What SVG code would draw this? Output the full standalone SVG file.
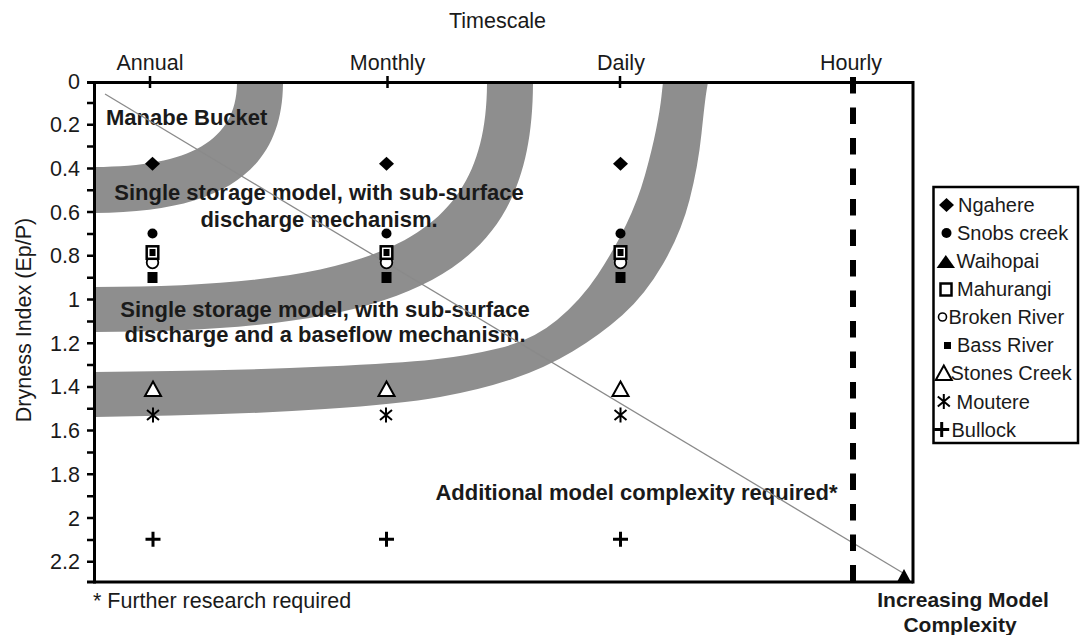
<svg xmlns="http://www.w3.org/2000/svg" width="1080" height="635" viewBox="0 0 1080 635">
  <style>
    .reg { font-family: "Liberation Sans", Arial, sans-serif; font-size: 21.5px; fill: #1a1a1a; }
    .bold { font-family: "Liberation Sans", Arial, sans-serif; font-size: 22px; font-weight: bold; fill: #1a1a1a; }
    .corner { font-size: 21px; }
    .leg { font-family: "Liberation Sans", Arial, sans-serif; font-size: 20px; fill: #1a1a1a; }
    .mid { text-anchor: middle; }
    .end { text-anchor: end; }
    .axis { stroke: #000; stroke-width: 3; fill: none; }
    .tick { stroke: #000; stroke-width: 2.5; fill: none; }
    .band { fill: #8e8e8e; stroke: none; }
    .solid { fill: #000; stroke: none; }
    .open { fill: #fff; stroke: #000; }
  </style>
  <defs>
    <clipPath id="plotArea">
      <rect x="95.5" y="84" width="816" height="496.5"/>
    </clipPath>
    <!-- series marker symbols -->
    <path id="mDiamond" d="M0,-7 L7.5,0 L0,7 L-7.5,0 Z" class="solid"/>
    <circle id="mDot" r="5" class="solid"/>
    <path id="mTriOpen" d="M0,-7.5 L8,7 L-8,7 Z" fill="#fff" stroke="#000" stroke-width="2"/>
    <path id="mStar" d="M0,-7.5 V7.5 M-6,-5 L6,5 M-6,5 L6,-5" stroke="#000" stroke-width="2" fill="none"/>
    <path id="mPlus" d="M-7.5,0 H7.5 M0,-7.5 V7.5" stroke="#000" stroke-width="3" fill="none"/>
  </defs>

  <rect width="1080" height="635" fill="#fff"/>

  <!-- model-complexity regions -->
  <g id="regions" clip-path="url(#plotArea)">
    <path id="band-manabe" class="band" d="M80,213 L93,213 C222,213 283,171 283,82 L283,70 L237,70 L237,82 C237,140 191,167 93,167 L80,167 Z"/>
    <path id="band-subsurface" class="band" d="M80,332 L93,332 C423,332 533,269.5 533,82 L533,70 L487,70 L487,82 C487,235.75 388.5,287 93,287 L80,287 Z"/>
    <path id="band-baseflow" class="band" d="M80,417 L93,417 L171.5,415.5 Q250,414 325,409 Q400,404 440,397 Q480,390 512.5,379 Q545,368 572.5,351.5 Q600,335 622.5,315 Q645,295 663,264 Q681,233 689.5,200 Q698,167 701.5,133.5 Q705,100 706.5,91 L708,82 L708,70 L663,70 L663,82 L661.5,96 Q660,110 656,130 Q652,150 645,175 Q638,200 626,225 Q614,250 597.5,275 Q581,300 557,320 Q533,340 500,348 Q467,356 433.5,359.5 Q400,363 325,366.5 Q250,370 171.5,371 L93,372 L80,372 Z"/>
  </g>

  <!-- region labels -->
  <g id="region-labels">
    <text class="bold" x="106" y="125">Manabe Bucket</text>
    <text class="bold mid" x="319" y="200">Single storage model, with sub-surface</text>
    <text class="bold mid" x="319" y="227">discharge mechanism.</text>
    <text class="bold mid" x="325" y="317">Single storage model, with sub-surface</text>
    <text class="bold mid" x="325" y="342">discharge and a baseflow mechanism.</text>
    <text class="bold mid" x="636.5" y="500">Additional model complexity required*</text>
  </g>

  <!-- connectors: complexity trend and hourly limit -->
  <g id="connectors">
    <line id="trend" x1="105" y1="94" x2="903" y2="573" stroke="#8a8a8a" stroke-width="1.3"/>
    <line id="hourly-limit" x1="853" y1="77" x2="853" y2="582" stroke="#000" stroke-width="6" stroke-dasharray="16.5 14"/>
  </g>

  <!-- axes and frame -->
  <g id="axes">
    <line class="axis" x1="87" y1="82.5" x2="913" y2="82.5"/>
    <line class="axis" x1="87" y1="582" x2="913" y2="582"/>
    <line class="axis" x1="94.5" y1="81" x2="94.5" y2="583.5"/>
    <line class="axis" x1="913" y1="81" x2="913" y2="583.5"/>
    <path class="tick" d="M87,102.9H94 M87,124.7H94 M87,146.6H94 M87,168.4H94 M87,190.3H94 M87,212.1H94 M87,234H94 M87,255.8H94 M87,277.7H94 M87,299.5H94 M87,321.4H94 M87,343.2H94 M87,365.1H94 M87,386.9H94 M87,408.8H94 M87,430.6H94 M87,452.5H94 M87,474.3H94 M87,496.2H94 M87,518H94 M87,539.9H94 M87,561.7H94"/>
    <path class="tick" d="M150,76V88 M387.5,76V88 M620,76V88"/>
  </g>

  <!-- axis text -->
  <g id="axis-labels">
    <text class="reg mid" x="497.5" y="28">Timescale</text>
    <text class="reg mid" x="150" y="70">Annual</text>
    <text class="reg mid" x="387.5" y="70">Monthly</text>
    <text class="reg mid" x="621" y="70">Daily</text>
    <text class="reg mid" x="851" y="70">Hourly</text>
    <text class="reg end" x="80" y="88.5">0</text>
    <text class="reg end" x="80" y="132">0.2</text>
    <text class="reg end" x="80" y="175.8">0.4</text>
    <text class="reg end" x="80" y="219.6">0.6</text>
    <text class="reg end" x="80" y="263.3">0.8</text>
    <text class="reg end" x="80" y="307">1</text>
    <text class="reg end" x="80" y="350.7">1.2</text>
    <text class="reg end" x="80" y="394.4">1.4</text>
    <text class="reg end" x="80" y="438.1">1.6</text>
    <text class="reg end" x="80" y="481.8">1.8</text>
    <text class="reg end" x="80" y="525.5">2</text>
    <text class="reg end" x="80" y="569.2">2.2</text>
    <text class="reg mid" transform="translate(31,320) rotate(-90)">Dryness Index (Ep/P)</text>
    <text class="reg" x="93" y="608">* Further research required</text>
    <text class="bold corner mid" x="963" y="607">Increasing Model</text>
    <text class="bold corner mid" x="960" y="632">Complexity</text>
  </g>

  <!-- data points per catchment -->
  <g id="ngahere">
    <use href="#mDiamond" x="152.5" y="163.8"/>
    <use href="#mDiamond" x="386.5" y="163.8"/>
    <use href="#mDiamond" x="620.5" y="163.8"/>
  </g>
  <g id="snobs-creek">
    <use href="#mDot" x="152.5" y="233.5"/>
    <use href="#mDot" x="386.5" y="233.5"/>
    <use href="#mDot" x="620.5" y="233.5"/>
  </g>
  <g id="broken-river">
    <circle class="open" cx="152.5" cy="262.5" r="5.8" stroke-width="1.8"/>
    <circle class="open" cx="386.5" cy="262.5" r="5.8" stroke-width="1.8"/>
    <circle class="open" cx="620.5" cy="262.5" r="5.8" stroke-width="1.8"/>
  </g>
  <g id="mahurangi">
    <rect class="open" x="146.7" y="246.3" width="11.6" height="12.5" stroke-width="2.5"/>
    <rect class="solid" x="149.5" y="249" width="6" height="7"/>
    <rect class="open" x="380.7" y="246.3" width="11.6" height="12.5" stroke-width="2.5"/>
    <rect class="solid" x="383.5" y="249" width="6" height="7"/>
    <rect class="open" x="614.7" y="246.3" width="11.6" height="12.5" stroke-width="2.5"/>
    <rect class="solid" x="617.5" y="249" width="6" height="7"/>
  </g>
  <g id="bass-river">
    <rect class="solid" x="147.5" y="272" width="10" height="11"/>
    <rect class="solid" x="381.5" y="272" width="10" height="11"/>
    <rect class="solid" x="615.5" y="272" width="10" height="11"/>
  </g>
  <g id="stones-creek">
    <use href="#mTriOpen" x="153" y="389"/>
    <use href="#mTriOpen" x="386.5" y="389"/>
    <use href="#mTriOpen" x="620.5" y="389"/>
  </g>
  <g id="moutere">
    <use href="#mStar" x="153" y="415"/>
    <use href="#mStar" x="386" y="415"/>
    <use href="#mStar" x="620.5" y="415"/>
  </g>
  <g id="bullock">
    <use href="#mPlus" x="153" y="539.3"/>
    <use href="#mPlus" x="386.5" y="539.3"/>
    <use href="#mPlus" x="620.5" y="539.3"/>
  </g>
  <g id="waihopai">
    <path class="solid" d="M904,569 L911,582 L897,582 Z"/>
  </g>

  <!-- legend -->
  <g id="legend">
    <rect x="933.5" y="187" width="144.5" height="256" fill="#fff" stroke="#000" stroke-width="2.5"/>
    <use href="#mDiamond" x="946.5" y="205"/>
    <text class="leg" x="958" y="212">Ngahere</text>
    <use href="#mDot" x="946.5" y="233"/>
    <text class="leg" x="957" y="240">Snobs creek</text>
    <path class="solid" d="M945.8,255 L955,268 L936.6,268 Z"/>
    <text class="leg" x="956.5" y="268">Waihopai</text>
    <rect class="open" x="940.5" y="283.5" width="11" height="12" stroke-width="2.5"/>
    <text class="leg" x="957" y="296">Mahurangi</text>
    <circle class="open" cx="942.5" cy="317" r="4" stroke-width="1.6"/>
    <text class="leg" x="948.5" y="324">Broken River</text>
    <rect class="solid" x="944" y="342" width="7" height="7"/>
    <text class="leg" x="957" y="352">Bass River</text>
    <use href="#mTriOpen" x="943.8" y="373"/>
    <text class="leg" x="950.5" y="380">Stones Creek</text>
    <use href="#mStar" x="943.8" y="401.5"/>
    <text class="leg" x="956.5" y="408.5">Moutere</text>
    <use href="#mPlus" x="941.7" y="429.5"/>
    <text class="leg" x="951.5" y="436.5">Bullock</text>
  </g>
</svg>
